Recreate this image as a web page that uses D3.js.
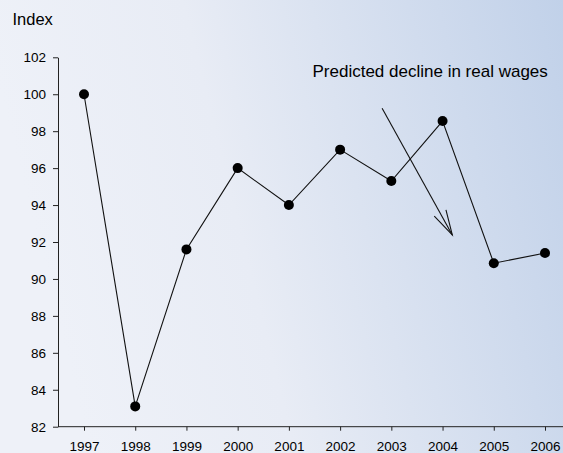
<!DOCTYPE html>
<html>
<head>
<meta charset="utf-8">
<script src="https://cdn.jsdelivr.net/npm/d3@7"></script>
<style>
  html, body { margin: 0; padding: 0; overflow: hidden; }
  svg { display: block; font-family: 'Liberation Sans', Arial, sans-serif; }
</style>
</head>
<body>
<div id="viz"></div>
<script>
const years = [1997, 1998, 1999, 2000, 2001, 2002, 2003, 2004, 2005, 2006]
const index = [100, 83.1, 91.6, 96.0, 94.0, 97.0, 95.3, 98.55, 90.85, 91.4]
const yTicks = [82, 84, 86, 88, 90, 92, 94, 96, 98, 100, 102]
// arrow for the annotation, in [year, index]
const arrowFrom = [2002.82, 99.24]
const arrowTo = [2004.19, 92.38]
const note = 'Predicted decline in real wages'

const width = 563,
    height = 453

const svg = d3.select('#viz').append('svg')
    .attr('width', width)
    .attr('height', height)

// background gradient
const grad = svg.append('defs').append('linearGradient')
    .attr('id', 'bg')
    .attr('x1', '0%').attr('y1', '20%')
    .attr('x2', '100%').attr('y2', '0%')
grad.append('stop').attr('offset', '0%').attr('stop-color', '#eef1f8')
grad.append('stop').attr('offset', '35%').attr('stop-color', '#e8ecf5')
grad.append('stop').attr('offset', '100%').attr('stop-color', '#c1d1e9')

svg.append('rect')
    .attr('width', width)
    .attr('height', height)
    .attr('fill', 'url(#bg)')

const x = d3.scaleLinear()
    .domain([1997, 2006])
    .range([84, 545])

const y = d3.scaleLinear()
    .domain([82, 102])
    .range([426.7, 57.3])

const axisColor = '#222'
const tickFont = "'Liberation Sans', Arial, sans-serif"

// y axis
const yAxisG = svg.append('g')
    .attr('transform', 'translate(58,0)')
    .call(d3.axisLeft(y).tickValues(yTicks).tickSize(5).tickSizeOuter(0).tickPadding(7))
yAxisG.select('.domain').attr('stroke', axisColor)
yAxisG.selectAll('.tick line').attr('stroke', axisColor)
yAxisG.selectAll('.tick text')
    .attr('fill', '#000')
    .style('font-size', '13.5px')
    .style('font-family', tickFont)

// x axis
const xAxisG = svg.append('g')
    .attr('transform', `translate(0,${y(82)})`)
    .call(d3.axisBottom(x).tickValues(years).tickFormat(d3.format('d')).tickSize(4).tickSizeOuter(0).tickPadding(11))
xAxisG.select('.domain').remove()
xAxisG.append('line')
    .attr('x1', 58).attr('x2', width)
    .attr('stroke', axisColor)
xAxisG.selectAll('.tick line').attr('stroke', axisColor)
xAxisG.selectAll('.tick text')
    .attr('fill', '#000')
    .style('font-size', '13.5px')
    .style('font-family', tickFont)

// axis title
svg.append('text')
    .attr('x', 12.5)
    .attr('y', 25)
    .attr('fill', '#000')
    .style('font-size', '16.5px')
    .text('Index')

const data = years.map((yr, i) => ({ year: yr, value: index[i] }))

const line = d3.line()
    .x(d => x(d.year))
    .y(d => y(d.value))

svg.append('path')
    .datum(data)
    .attr('d', line)
    .attr('fill', 'none')
    .attr('stroke', '#111')
    .attr('stroke-width', 1.1)

svg.selectAll('circle').data(data)
    .enter()
    .append('circle')
    .attr('cx', d => x(d.year))
    .attr('cy', d => y(d.value))
    .attr('r', 5)
    .attr('fill', '#000')

// annotation
svg.append('text')
    .attr('x', 312.5)
    .attr('y', 77)
    .attr('fill', '#000')
    .style('font-size', '17px')
    .text(note)

const ax1 = x(arrowFrom[0]), ay1 = y(arrowFrom[1]),
    ax2 = x(arrowTo[0]), ay2 = y(arrowTo[1])
const ang = Math.atan2(ay2 - ay1, ax2 - ax1)
const headLen = 26, spread = 0.26

const arrow = svg.append('g')
    .attr('stroke', '#111')
    .attr('stroke-width', 1.1)
    .attr('fill', 'none')
arrow.append('line')
    .attr('x1', ax1).attr('y1', ay1)
    .attr('x2', ax2).attr('y2', ay2)
arrow.append('path')
    .attr('d', d3.line()([
        [ax2 - headLen * Math.cos(ang - spread), ay2 - headLen * Math.sin(ang - spread)],
        [ax2, ay2],
        [ax2 - headLen * Math.cos(ang + spread), ay2 - headLen * Math.sin(ang + spread)]
    ]))
</script>
</body>
</html>
